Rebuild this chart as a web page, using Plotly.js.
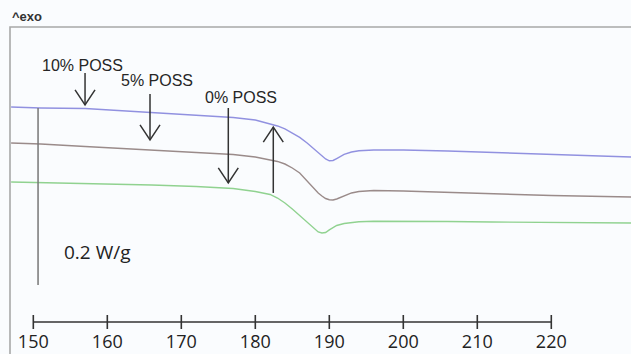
<!DOCTYPE html>
<html>
<head>
<meta charset="utf-8">
<script src="https://cdn.plot.ly/plotly-3.0.1.min.js"></script>
<style>html,body{margin:0;padding:0;background:#fafcfe;}#chart{width:631px;height:354px;}</style>
</head>
<body>
<div id="chart"></div>
<script>
// Temperature grid (°C)
const temperature = [147,151,157,166,172,177,180,182,183,184,185,186,187,188,188.5,189,189.5,190,190.5,191,192,193,194,196,200,206,212,220,230.8];
// Heat flow (mW/g, arbitrary offset, exo up)
const poss10 = [254.2,253.1,252.5,248.0,245.2,242.4,239.5,235.6,232.8,229.4,224.9,219.8,213.6,206.2,202.3,198.9,195.5,193.4,193.8,196.0,200.6,203.4,204.7,205.6,205.6,204.5,202.8,200.0,197.7];
const poss5  = [213.6,212.4,209.6,205.6,202.8,200.6,197.7,194.9,192.7,189.8,185.3,179.7,170.6,161.6,157.1,153.7,150.8,149.4,149.2,150.3,153.7,157.1,158.8,159.9,159.3,157.6,155.9,154.2,152.6];
const poss0  = [169.5,168.9,167.8,166.1,164.4,162.2,158.8,155.4,151.4,145.8,139.0,131.6,123.2,115.8,113.0,111.9,112.4,115.3,118.1,120.3,122.6,123.7,124.5,125.2,125.2,124.9,124.3,123.7,123.2];
// Temperature axis ticks
const tickValues = [150,160,170,180,190,200,210,220];
const tickLabels = ['150','160','170','180','190','200','210','220'];
const axisLevel = 11.3;
// Scale bar
const scaleBarT = 150.64, scaleBarBase = 53.1, scaleBarSpan = 200; // 0.2 W/g
// Series labels: [label, T, y]
const seriesLabels = [
  ['10% POSS', 156.65, 300.6],
  ['5% POSS', 166.78, 283.6],
  ['0% POSS', 178.0, 265.0]
];
// Arrows: [T, tailY, tipY]
const arrows = [
  [156.99, 292.7, 256.5],
  [165.77, 268.9, 217.0],
  [176.35, 253.1, 168.4],
  [182.43, 157.1, 231.6]
];
const headHalfWidthT = 1.35;  // °C
const headLengthY = 17;       // mW/g

const lineW = 1.4;
const traces = [
  {x: temperature, y: poss10, mode:'lines', line:{color:'#9191e0', width:lineW}, hoverinfo:'skip'},
  {x: temperature, y: poss5, mode:'lines', line:{color:'#9a8b8a', width:lineW}, hoverinfo:'skip'},
  {x: temperature, y: poss0, mode:'lines', line:{color:'#90d290', width:lineW}, hoverinfo:'skip'},
  {x: tickValues, y: tickValues.map(()=>axisLevel), mode:'lines+markers',
   line:{color:'#333', width:1.6},
   marker:{symbol:'line-ns', size:10, line:{color:'#333', width:1.6}}, hoverinfo:'skip'}
];

const shapes = [
  {type:'rect', xref:'paper', yref:'paper', x0:0, x1:1.05, y0:-0.2, y1:1, line:{color:'#a8a8a8', width:1.6}},
  {type:'line', xref:'x', yref:'y', x0:scaleBarT, x1:scaleBarT, y0:scaleBarBase, y1:scaleBarBase+scaleBarSpan, line:{color:'#777', width:1.5}}
];
arrows.forEach(a => {
  const [t, tail, tip] = a;
  const dir = tip < tail ? 1 : -1; // head arms go back toward tail
  shapes.push({type:'line', xref:'x', yref:'y', x0:t, x1:t, y0:tail, y1:tip, line:{color:'#333', width:1.5}});
  const back = tip + dir*headLengthY;
  shapes.push({type:'path', xref:'x', yref:'y',
    path:`M${t-headHalfWidthT},${back} L${t},${tip} L${t+headHalfWidthT},${back}`,
    line:{color:'#333', width:1.5}});
});

const annotations = [];
seriesLabels.forEach(l => {
  annotations.push({x:l[1], y:l[2], xref:'x', yref:'y', text:l[0], showarrow:false,
    font:{family:'Liberation Sans, Arial, sans-serif', size:16, color:'#262626'}});
});
annotations.push({x:158.6, y:90.4, xref:'x', yref:'y', text:'0.2 W/g', showarrow:false,
  font:{family:'Open Sans, sans-serif', size:19, color:'#222'}});
annotations.push({x:0, y:1.036, xref:'paper', yref:'paper', xanchor:'left', yanchor:'middle', text:'<b>^exo</b>', showarrow:false,
  font:{family:'Liberation Sans, Arial, sans-serif', size:13, color:'#333'}});

const layout = {
  width:631, height:354,
  margin:{l:10, r:0, t:27, b:25, pad:0},
  paper_bgcolor:'#fafcfe', plot_bgcolor:'#fafcfe',
  showlegend:false,
  xaxis:{range:[146.85,230.77], showgrid:false, zeroline:false, showline:false, ticks:'',
    tickvals:tickValues, ticktext:tickLabels,
    tickfont:{family:'Open Sans, sans-serif', size:18, color:'#222'}},
  yaxis:{range:[3.39,344.6], visible:false},
  shapes: shapes,
  annotations: annotations
};
Plotly.newPlot('chart', traces, layout, {displayModeBar:false, staticPlot:true});
</script>
</body>
</html>
